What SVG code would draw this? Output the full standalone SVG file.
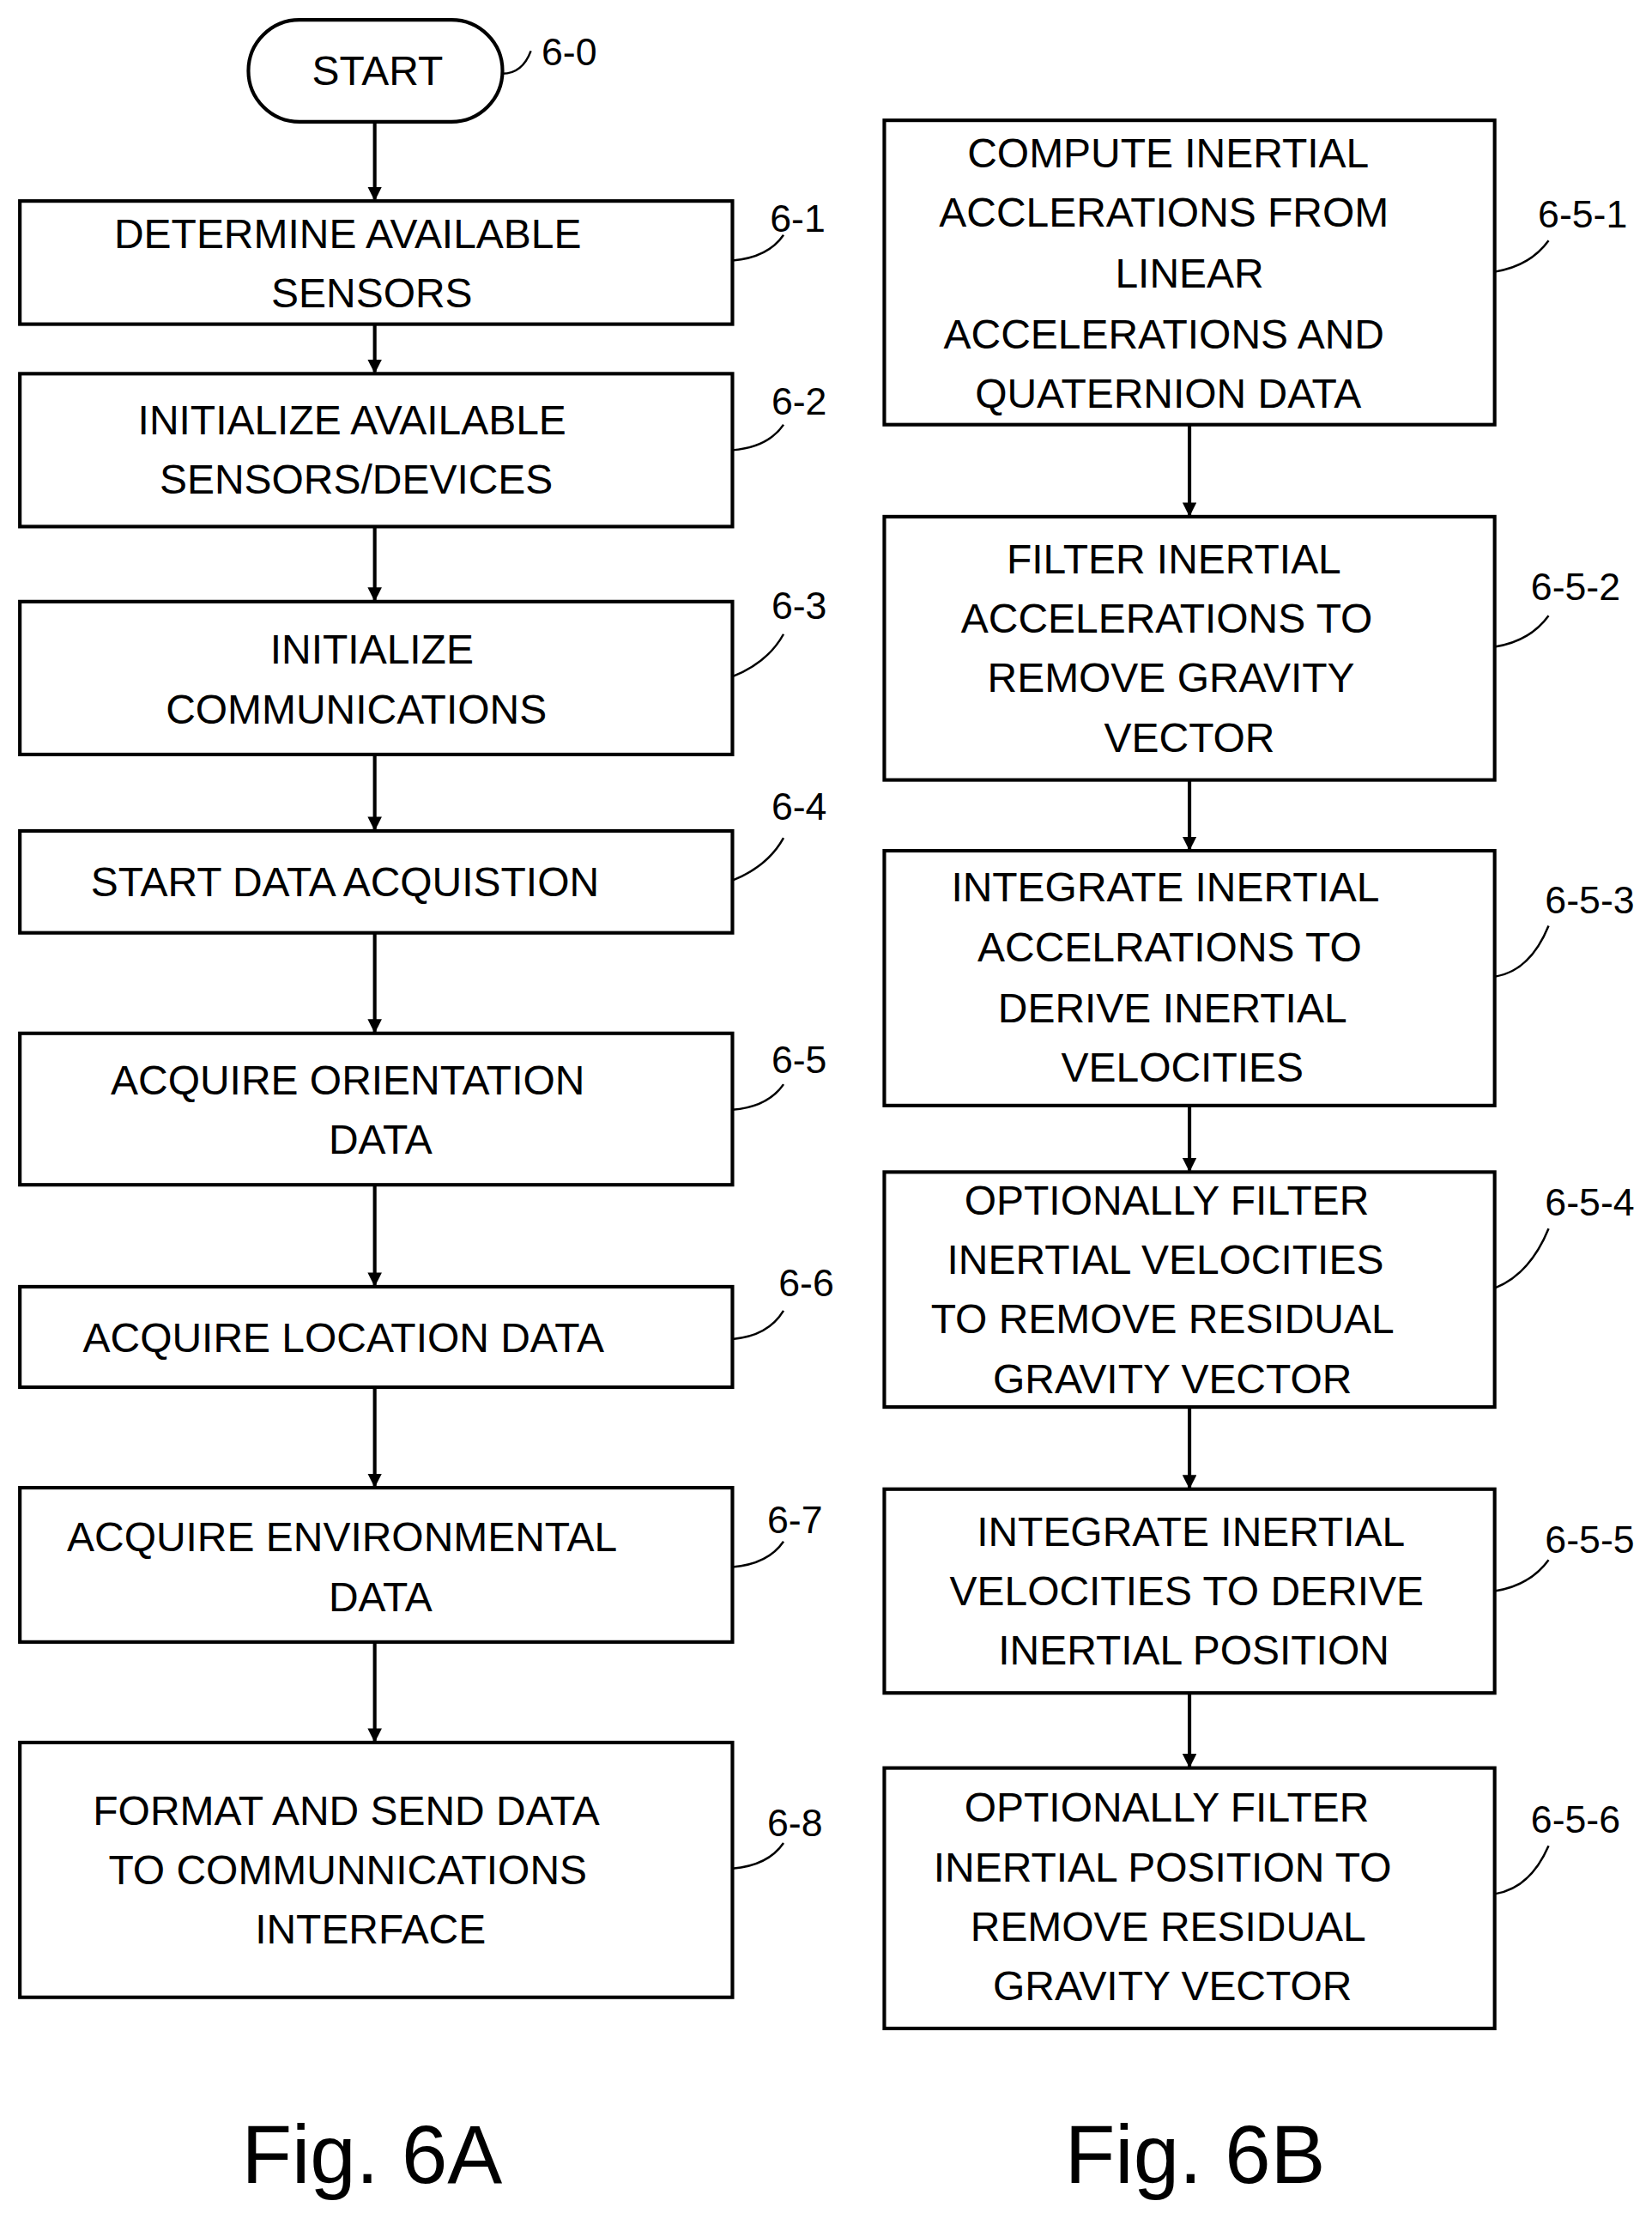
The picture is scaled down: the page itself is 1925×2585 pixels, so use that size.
<svg xmlns="http://www.w3.org/2000/svg" width="1925" height="2585" viewBox="0 0 1925 2585">
<style>
.b{fill:#fff;stroke:#000;stroke-width:2.5}
.t{font-family:"Liberation Sans",Arial,sans-serif;font-size:29px;text-anchor:middle;fill:#000}
.l{font-family:"Liberation Sans",Arial,sans-serif;font-size:27px;text-anchor:middle;fill:#000}
.f{font-family:"Liberation Sans",Arial,sans-serif;font-size:58px;text-anchor:middle;fill:#000}
.c{fill:none;stroke:#000;stroke-width:2.5}
.ld{fill:none;stroke:#000;stroke-width:1.5}
</style>
<defs><marker id="a" markerWidth="10" markerHeight="10" refX="9" refY="5" orient="auto" markerUnits="userSpaceOnUse"><path d="M0,0 L10,5 L0,10 z" fill="#000"/></marker></defs>
<rect width="1925" height="2585" fill="#fff"/>
<g transform="scale(1.654,1.649)">
<g id="connectors">
<path class="c" marker-end="url(#a)" d="M264,86 V141"/>
<path class="c" marker-end="url(#a)" d="M264,229 V263"/>
<path class="c" marker-end="url(#a)" d="M264,372 V424"/>
<path class="c" marker-end="url(#a)" d="M264,533 V586"/>
<path class="c" marker-end="url(#a)" d="M264,659 V729"/>
<path class="c" marker-end="url(#a)" d="M264,837 V908"/>
<path class="c" marker-end="url(#a)" d="M264,980 V1050"/>
<path class="c" marker-end="url(#a)" d="M264,1160 V1230"/>
<path class="c" marker-end="url(#a)" d="M838,300 V364"/>
<path class="c" marker-end="url(#a)" d="M838,551 V600"/>
<path class="c" marker-end="url(#a)" d="M838,781 V827"/>
<path class="c" marker-end="url(#a)" d="M838,994 V1051"/>
<path class="c" marker-end="url(#a)" d="M838,1196 V1248"/>
</g>
<g id="n6-0"><rect class="b" x="175" y="14" width="179" height="72" rx="36"/><text class="t" x="266" y="60">START</text><path class="ld" d="M354,52 q14,0 20,-16"/><text class="l" x="401" y="46">6-0</text></g>
<g id="n6-1"><rect class="b" x="14" y="142" width="502" height="87"/><text class="t" x="245" y="175">DETERMINE AVAILABLE</text><text class="t" x="262" y="217">SENSORS</text><path class="ld" d="M516,184 q25,-2 36,-18"/><text class="l" x="562" y="164">6-1</text></g>
<g id="n6-2"><rect class="b" x="14" y="264" width="502" height="108"/><text class="t" x="248" y="307">INITIALIZE AVAILABLE</text><text class="t" x="251" y="349">SENSORS/DEVICES</text><path class="ld" d="M516,318 q25,-2 36,-18"/><text class="l" x="563" y="293">6-2</text></g>
<g id="n6-3"><rect class="b" x="14" y="425" width="502" height="108"/><text class="t" x="262" y="469">INITIALIZE</text><text class="t" x="251" y="511">COMMUNICATIONS</text><path class="ld" d="M516,478 q25,-10 36,-30"/><text class="l" x="563" y="437">6-3</text></g>
<g id="n6-4"><rect class="b" x="14" y="587" width="502" height="72"/><text class="t" x="243" y="633">START DATA ACQUISTION</text><path class="ld" d="M516,622 q25,-10 36,-30"/><text class="l" x="563" y="579">6-4</text></g>
<g id="n6-5"><rect class="b" x="14" y="730" width="502" height="107"/><text class="t" x="245" y="773">ACQUIRE ORIENTATION</text><text class="t" x="268" y="815">DATA</text><path class="ld" d="M516,784 q25,-2 36,-18"/><text class="l" x="563" y="758">6-5</text></g>
<g id="n6-6"><rect class="b" x="14" y="909" width="502" height="71"/><text class="t" x="242" y="955">ACQUIRE LOCATION DATA</text><path class="ld" d="M516,946 q25,-2 36,-20"/><text class="l" x="568" y="916">6-6</text></g>
<g id="n6-7"><rect class="b" x="14" y="1051" width="502" height="109"/><text class="t" x="241" y="1096">ACQUIRE ENVIRONMENTAL</text><text class="t" x="268" y="1138">DATA</text><path class="ld" d="M516,1107 q25,-2 36,-18"/><text class="l" x="560" y="1083">6-7</text></g>
<g id="n6-8"><rect class="b" x="14" y="1231" width="502" height="180"/><text class="t" x="244" y="1289">FORMAT AND SEND DATA</text><text class="t" x="245" y="1331">TO COMMUNNICATIONS</text><text class="t" x="261" y="1373">INTERFACE</text><path class="ld" d="M516,1320 q25,-2 36,-18"/><text class="l" x="560" y="1297">6-8</text></g>
<g id="n6-5-1"><rect class="b" x="623" y="85" width="430" height="215"/><text class="t" x="823" y="118">COMPUTE INERTIAL</text><text class="t" x="820" y="160">ACCLERATIONS FROM</text><text class="t" x="838" y="203">LINEAR</text><text class="t" x="820" y="246">ACCELERATIONS AND</text><text class="t" x="823" y="288">QUATERNION DATA</text><path class="ld" d="M1053,192 q25,-4 38,-22"/><text class="l" x="1115" y="161">6-5-1</text></g>
<g id="n6-5-2"><rect class="b" x="623" y="365" width="430" height="186"/><text class="t" x="827" y="405">FILTER INERTIAL</text><text class="t" x="822" y="447">ACCELERATIONS TO</text><text class="t" x="825" y="489">REMOVE GRAVITY</text><text class="t" x="838" y="531">VECTOR</text><path class="ld" d="M1053,457 q25,-4 38,-22"/><text class="l" x="1110" y="424">6-5-2</text></g>
<g id="n6-5-3"><rect class="b" x="623" y="601" width="430" height="180"/><text class="t" x="821" y="637">INTEGRATE INERTIAL</text><text class="t" x="824" y="679">ACCELRATIONS TO</text><text class="t" x="826" y="722">DERIVE INERTIAL</text><text class="t" x="833" y="764">VELOCITIES</text><path class="ld" d="M1053,690 q25,-4 38,-36"/><text class="l" x="1120" y="645">6-5-3</text></g>
<g id="n6-5-4"><rect class="b" x="623" y="828" width="430" height="166"/><text class="t" x="822" y="858">OPTIONALLY FILTER</text><text class="t" x="821" y="900">INERTIAL VELOCITIES</text><text class="t" x="819" y="942">TO REMOVE RESIDUAL</text><text class="t" x="826" y="984">GRAVITY VECTOR</text><path class="ld" d="M1053,910 q25,-10 38,-42"/><text class="l" x="1120" y="859">6-5-4</text></g>
<g id="n6-5-5"><rect class="b" x="623" y="1052" width="430" height="144"/><text class="t" x="839" y="1092">INTEGRATE INERTIAL</text><text class="t" x="836" y="1134">VELOCITIES TO DERIVE</text><text class="t" x="841" y="1176">INERTIAL POSITION</text><path class="ld" d="M1053,1124 q25,-4 38,-22"/><text class="l" x="1120" y="1097">6-5-5</text></g>
<g id="n6-5-6"><rect class="b" x="623" y="1249" width="430" height="184"/><text class="t" x="822" y="1287">OPTIONALLY FILTER</text><text class="t" x="819" y="1329">INERTIAL POSITION TO</text><text class="t" x="823" y="1371">REMOVE RESIDUAL</text><text class="t" x="826" y="1413">GRAVITY VECTOR</text><path class="ld" d="M1053,1338 q25,-4 38,-34"/><text class="l" x="1110" y="1295">6-5-6</text></g>
<text class="f" x="262" y="1542">Fig. 6A</text>
<text class="f" x="842" y="1542">Fig. 6B</text>
</g>
</svg>
